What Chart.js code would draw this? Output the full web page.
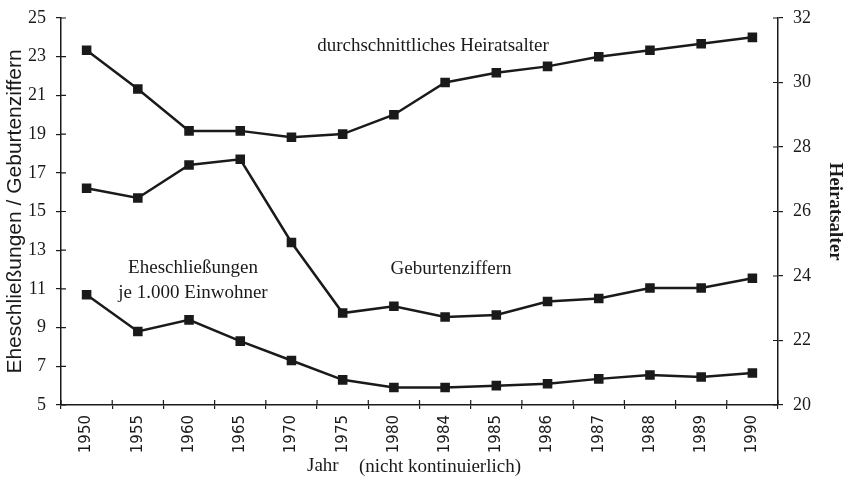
<!DOCTYPE html>
<html>
<head>
<meta charset="utf-8">
<script src="https://cdn.jsdelivr.net/npm/chart.js@4"></script>
<style>
  html, body { margin: 0; padding: 0; background: #fff; }
  #wrap { width: 846px; height: 486px; }
</style>
</head>
<body>
<div id="wrap"><canvas id="chart" width="846" height="486"></canvas></div>
<script>
// Jahre (nicht kontinuierlich)
const years = ['1950', '1955', '1960', '1965', '1970', '1975', '1980', '1984', '1985', '1986', '1987', '1988', '1989', '1990'];
// durchschnittliches Heiratsalter (rechte Achse)
const heiratsalter = [31.0, 29.8, 28.5, 28.5, 28.3, 28.4, 29.0, 30.0, 30.3, 30.5, 30.8, 31.0, 31.2, 31.4];
// Geburtenziffern (linke Achse)
const geburten = [16.2, 15.7, 17.4, 17.7, 13.4, 9.75, 10.1, 9.55, 9.65, 10.35, 10.5, 11.05, 11.05, 11.55];
// Eheschliessungen je 1.000 Einwohner (linke Achse)
const ehe = [10.7, 8.8, 9.4, 8.3, 7.3, 6.3, 5.9, 5.9, 6.0, 6.1, 6.35, 6.55, 6.45, 6.65];
const leftTicks = [5, 25, 2];
const rightTicks = [20, 32, 2];

const ink = '#1a1a1a';
const serif = '"Liberation Serif", "Times New Roman", serif';
const sans = '"DejaVu Sans", "Liberation Sans", sans-serif';

function series(data, axis) {
    return {
        data: data,
        yAxisID: axis,
        borderColor: ink,
        borderWidth: 2.5,
        backgroundColor: ink,
        pointStyle: 'rect',
        pointRadius: 5,
        pointBackgroundColor: ink,
        pointBorderColor: ink,
        tension: 0
    };
}

// ticks that cross the axis line (the inner half)
const crossTicks = {
    id: 'crossTicks',
    afterDraw(chart) {
        const c = chart.ctx, a = chart.chartArea;
        c.save();
        c.strokeStyle = ink;
        c.lineWidth = 1.2;
        c.beginPath();
        chart.scales.y.ticks.forEach(t => {
            const p = chart.scales.y.getPixelForValue(t.value);
            c.moveTo(a.left, p); c.lineTo(a.left + 5, p);
        });
        chart.scales.y1.ticks.forEach(t => {
            const p = chart.scales.y1.getPixelForValue(t.value);
            c.moveTo(a.right - 5, p); c.lineTo(a.right, p);
        });
        const x = chart.scales.x;
        for (let i = 0; i <= years.length; i++) {
            const p = x.getPixelForValue(i) - (x.getPixelForValue(1) - x.getPixelForValue(0)) / 2;
            c.moveTo(p, a.bottom); c.lineTo(p, a.bottom - 5);
        }
        c.stroke();
        c.restore();
    }
};

// text labels in the plot
const notes = {
    id: 'notes',
    afterDraw(chart) {
        const c = chart.ctx;
        c.save();
        c.fillStyle = ink;
        c.textAlign = 'center';
        c.textBaseline = 'middle';
        c.font = '19px ' + serif;
        c.fillText('durchschnittliches Heiratsalter', 433, 46);
        c.fillText('Geburtenziffern', 451, 269);
        c.fillText('Eheschließungen', 193, 268);
        c.fillText('je 1.000 Einwohner', 193, 293);
        c.textAlign = 'left';
        c.fillText('Jahr', 307, 466);
        c.fillText('(nicht kontinuierlich)', 359, 467);
        c.restore();
    }
};

new Chart(document.getElementById('chart'), {
    type: 'line',
    data: {
        labels: years,
        datasets: [
            series(heiratsalter, 'y1'),
            series(geburten, 'y'),
            series(ehe, 'y')
        ]
    },
    options: {
        responsive: false,
        animation: false,
        layout: { padding: { top: 18, right: 0, bottom: 0, left: 0 } },
        plugins: { legend: { display: false }, tooltip: { enabled: false } },
        scales: {
            x: {
                offset: true,
                grid: { offset: true, drawOnChartArea: false, color: ink, tickLength: 4, lineWidth: 1.2 },
                border: { color: ink, width: 1.5 },
                ticks: { minRotation: 90, maxRotation: 90, color: ink, padding: 6, font: { family: sans, size: 15 } },
                afterFit(s) { s.height = 81; }
            },
            y: {
                position: 'left',
                min: leftTicks[0], max: leftTicks[1],
                ticks: { stepSize: leftTicks[2], color: ink, padding: 10, font: { family: serif, size: 18, lineHeight: 0.8 } },
                grid: { drawOnChartArea: false, color: ink, tickLength: 5, lineWidth: 1.2 },
                border: { color: ink, width: 1.5 },
                title: { display: true, text: 'Eheschließungen / Geburtenziffern', color: ink, padding: { top: 3, bottom: 0 }, font: { family: '"Liberation Sans", sans-serif', size: 21 } },
                afterFit(s) { s.width = 61; }
            },
            y1: {
                position: 'right',
                min: rightTicks[0], max: rightTicks[1],
                ticks: { stepSize: rightTicks[2], color: ink, padding: 10, font: { family: serif, size: 18, lineHeight: 0.8 } },
                grid: { drawOnChartArea: false, color: ink, tickLength: 5, lineWidth: 1.2 },
                border: { color: ink, width: 1.5 },
                title: { display: true, text: 'Heiratsalter', color: ink, padding: { top: 0, bottom: 7 }, font: { family: serif, size: 19, weight: 'bold' } },
                afterFit(s) { s.width = 68; }
            }
        }
    },
    plugins: [crossTicks, notes]
});
</script>
</body>
</html>
